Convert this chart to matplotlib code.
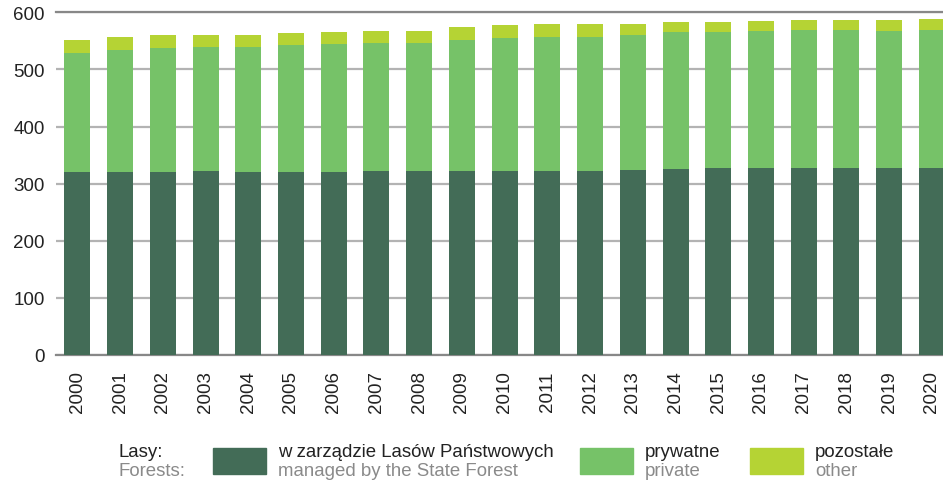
import matplotlib.pyplot as plt
from matplotlib.patches import Rectangle

years = [str(y) for y in range(2000, 2021)]
# (tys. ha / skala wykresu)
state = [320, 320, 320, 322, 320, 320, 320, 322, 322, 322, 322,
         322, 322, 324, 326, 327, 327, 327, 327, 327, 327]
private = [209, 214, 218, 217, 219, 223, 225, 224, 224, 230, 233,
           235, 235, 236, 240, 238, 240, 242, 242, 240, 242]
other = [23, 23, 22, 21, 21, 21, 21, 21, 21, 23, 23,
         23, 23, 20, 17, 18, 18, 18, 18, 19, 19]

c_state = '#436c57'
c_private = '#76c268'
c_other = '#b5d334'

W, H = 943, 481
fig = plt.figure(figsize=(W / 100, H / 100), dpi=100)
plt.rcParams['font.family'] = ['Liberation Sans', 'DejaVu Sans']


def px(x, y):
    return x / W, 1 - y / H


ax = fig.add_axes([56 / W, (H - 356) / H, (W - 56) / W, (356 - 13.3) / H])

x = list(range(len(years)))
bot2 = [a + b for a, b in zip(state, private)]
ax.bar(x, state, width=0.61, color=c_state, zorder=3)
ax.bar(x, private, width=0.61, bottom=state, color=c_private, zorder=3)
ax.bar(x, other, width=0.61, bottom=bot2, color=c_other, zorder=3)

ax.set_xlim(-0.5, 20.26)
ax.set_ylim(0, 600)
ax.set_yticks([0, 100, 200, 300, 400, 500, 600])
ax.yaxis.grid(True, color='#b3b3b3', linewidth=1.6, zorder=0)
ax.set_xticks(x)
ax.set_xticklabels(years, rotation=90)
ax.tick_params(axis='both', length=0, labelsize=13.5, colors='#222222')
ax.tick_params(axis='y', pad=8)
ax.tick_params(axis='x', pad=11)
for s in ['left', 'right']:
    ax.spines[s].set_visible(False)
ax.spines['bottom'].set_color('#888888')
ax.spines['bottom'].set_linewidth(1.6)
ax.spines['top'].set_color('#888888')
ax.spines['top'].set_linewidth(1.6)

# legenda
fs = 13.4
fig.text(*px(118, 453), 'Lasy:', fontsize=fs, color='#222222', va='center')
fig.text(*px(118, 472), 'Forests:', fontsize=fs, color='#8a8a8a', va='center')
items = [(213, c_state, 'w zarządzie Lasów Państwowych', 'managed by the State Forest'),
         (580, c_private, 'prywatne', 'private'),
         (750, c_other, 'pozostałe', 'other')]
for x0, col, pl, en in items:
    fig.add_artist(Rectangle(px(x0, 475), 53 / W, 26 / H, color=col,
                             transform=fig.transFigure))
    fig.text(*px(x0 + 65, 453), pl, fontsize=fs, color='#222222', va='center')
    fig.text(*px(x0 + 65, 472), en, fontsize=fs, color='#8a8a8a', va='center')

fig.savefig('out.png', dpi=100)
